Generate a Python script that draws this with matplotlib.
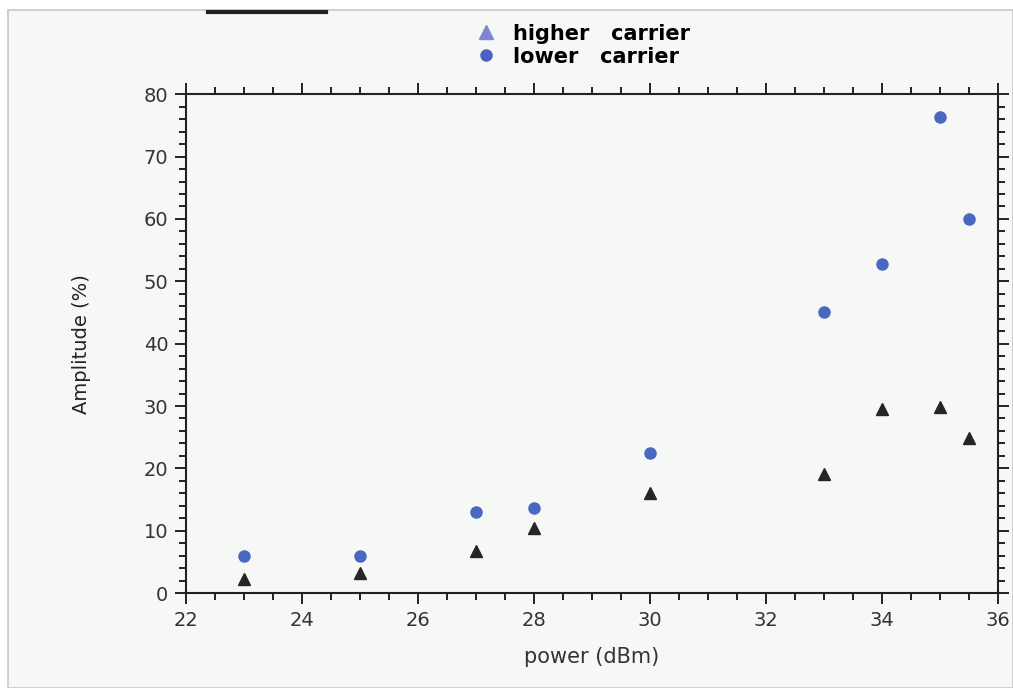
#!/usr/bin/env python3
# -*- coding: utf-8 -*-

import numpy as np
from matplotlib import pyplot as plt
from matplotlib import ticker as tk
from matplotlib.lines import Line2D

# values
power = [23, 25, 27, 28, 30, 33, 34, 35, 35.5]
lower = [6.0, 5.9, 13.0, 13.6, 22.4, 45.0, 52.7, 76.3, 60.0]
higher = [2.3, 3.2, 6.7, 10.5, 16.0, 19.1, 29.6, 29.8, 24.8]

BLUE = '#4a68c0'
DARK = '#262626'
PAPER = '#f6f8f6'

plt.rcParams.update({'font.family': ['DejaVu Sans'], 'font.size': 13})

fig = plt.figure(figsize=(10.13, 6.88), dpi=100, facecolor='white')
# scanned page area
fig.patches.append(plt.Rectangle((0.008, 0.0), 0.992, 0.985, transform=fig.transFigure,
                                 facecolor=PAPER, edgecolor='#c8c8c8', linewidth=1.2,
                                 zorder=-10))
fig.lines.append(Line2D([0.205, 0.322], [0.982, 0.982], transform=fig.transFigure,
                        color='#222222', linewidth=3))

ax = fig.add_axes([0.184, 0.138, 0.801, 0.725])
ax.set_facecolor(PAPER)

ax.plot(power, lower, 'o', color=BLUE, markersize=8, zorder=3)
ax.plot(power, higher, '^', color=DARK, markersize=8, zorder=3)

ax.set_xlim(22, 36)
ax.set_ylim(0, 80)
ax.xaxis.set_major_locator(tk.MultipleLocator(2))
ax.xaxis.set_minor_locator(tk.MultipleLocator(0.5))
ax.yaxis.set_major_locator(tk.MultipleLocator(10))
ax.yaxis.set_minor_locator(tk.MultipleLocator(2))
ax.tick_params(which='both', direction='out', top=True, right=True,
               width=1.4, colors='#222222', labelcolor='#333333', labelsize=14)
ax.tick_params(which='major', length=8, pad=5)
ax.tick_params(which='minor', length=5)
for s in ax.spines.values():
    s.set_linewidth(1.5)
    s.set_color('#222222')

ax.set_xlabel('power (dBm)', fontsize=15, color='#333333', labelpad=12)
ax.set_ylabel('Amplitude (%)', fontsize=14, color='#222222', labelpad=38)

handles = [Line2D([], [], marker='^', linestyle='none', color='#7d86d4',
                  markersize=10),
           Line2D([], [], marker='o', linestyle='none', color='#4a60c4',
                  markersize=8)]
fig.legend(handles, ['higher   carrier', 'lower   carrier'],
           loc='upper center', bbox_to_anchor=(0.576, 0.993), frameon=False,
           handlelength=0.8, handletextpad=0.9, labelspacing=0.15,
           prop={'weight': 'bold', 'size': 15})

fig.savefig('out.png', dpi=100, facecolor='white')
